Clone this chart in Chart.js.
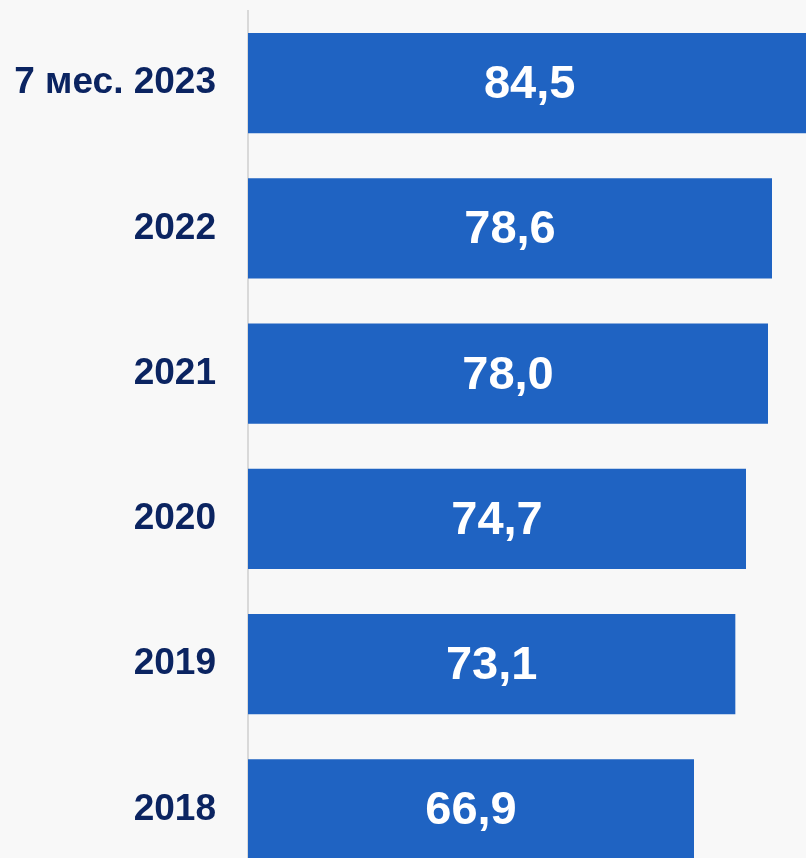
<!DOCTYPE html>
<html>
<head>
<meta charset="utf-8">
<script src="https://cdn.jsdelivr.net/npm/chart.js@4"></script>
<style>
    html, body { margin: 0; padding: 0; overflow: hidden; background: #f8f8f8; }
    #caja { position: relative; width: 806px; height: 882px; }
</style>
</head>
<body>
<div id="caja"><canvas id="grafico"></canvas></div>
<script>
// datos del grafico
const periodos = ['7 мес. 2023', '2022', '2021', '2020', '2019', '2018'];
const valores = [84.5, 78.6, 78.0, 74.7, 73.1, 66.9];
const ejeMax = 83.7;

// escribe el valor en el centro de cada barra
const etiquetas = {
    id: 'etiquetas',
    afterDatasetsDraw(chart) {
        const ctx = chart.ctx;
        const meta = chart.getDatasetMeta(0);
        ctx.save();
        ctx.fillStyle = '#ffffff';
        ctx.font = 'bold 47px "Liberation Sans", Arial, sans-serif';
        ctx.textAlign = 'center';
        ctx.textBaseline = 'middle';
        meta.data.forEach((barra, i) => {
            const texto = valores[i].toFixed(1).replace('.', ',');
            ctx.fillText(texto, (barra.x + barra.base) / 2, barra.y + 2);
        });
        ctx.restore();
    }
};

new Chart(document.getElementById('grafico'), {
    type: 'bar',
    data: {
        labels: periodos,
        datasets: [{
            data: valores,
            backgroundColor: '#1f63c2',
            barPercentage: 0.69,
            categoryPercentage: 1
        }]
    },
    options: {
        indexAxis: 'y',
        responsive: true,
        maintainAspectRatio: false,
        animation: false,
        layout: { padding: { top: 10.5, right: 0, bottom: 0, left: 0 } },
        plugins: {
            legend: { display: false },
            tooltip: { enabled: false }
        },
        scales: {
            x: {
                display: false,
                min: 0,
                max: ejeMax
            },
            y: {
                afterFit(scale) {
                    scale.width = 248;
                    scale.paddingTop = 0;
                    scale.paddingBottom = 0;
                },
                grid: { display: false, drawTicks: false },
                border: { display: true, color: '#d9d9d9', width: 2 },
                ticks: {
                    padding: 32,
                    color: '#0b2461',
                    font: { family: '"Liberation Sans", Arial, sans-serif', weight: 'bold', size: 37 }
                }
            }
        }
    },
    plugins: [etiquetas]
});
</script>
</body>
</html>
